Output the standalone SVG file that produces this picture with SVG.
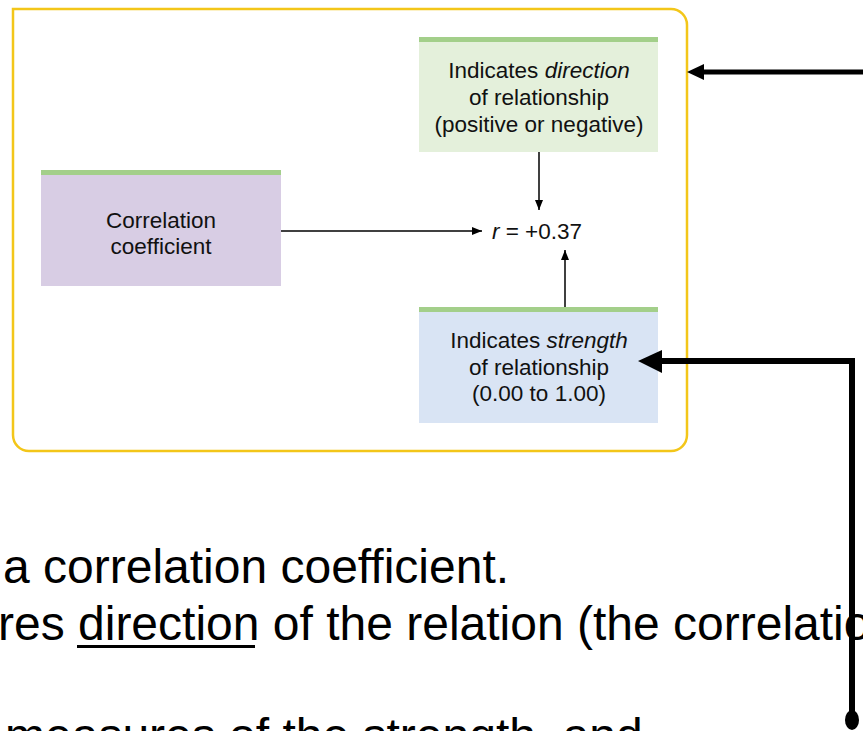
<svg xmlns="http://www.w3.org/2000/svg" width="863" height="731" viewBox="0 0 863 731">
<style>
.box{font-family:"Liberation Sans",Arial,sans-serif;font-size:22.5px;fill:#111;text-anchor:middle}
.body{font-family:"Liberation Sans",Arial,sans-serif;font-size:48px;fill:#000}
.bar{fill:#A3CF8A}
.thin{stroke:#000;stroke-width:1.5;fill:none}
.thick{stroke:#000;stroke-width:6;fill:none}
</style>
<defs>
<marker id="ah" markerWidth="10" markerHeight="8" refX="10" refY="4" orient="auto" markerUnits="userSpaceOnUse">
<path d="M0,0 L10,4 L0,8 Z" fill="#000"/>
</marker>
</defs>
<rect width="863" height="731" fill="#fff"/>
<path id="frame" d="M13,9 H671 A16,16 0 0 1 687,25 V435 A16,16 0 0 1 671,451 H29 A16,16 0 0 1 13,435 Z" fill="none" stroke="#F3C619" stroke-width="2.5"/>

<g id="direction">
<rect x="419" y="37" width="239" height="115" fill="#E4F0DB"/>
<rect class="bar" x="419" y="37" width="239" height="5"/>
<text class="box" x="539" y="78">Indicates <tspan font-style="italic">direction</tspan></text>
<text class="box" x="539" y="105">of relationship</text>
<text class="box" x="539" y="132">(positive or negative)</text>
</g>

<g id="coefficient">
<rect x="41" y="170" width="240" height="116" fill="#D8CDE4"/>
<rect class="bar" x="41" y="170" width="240" height="5"/>
<text class="box" x="161" y="228">Correlation</text>
<text class="box" x="161" y="254">coefficient</text>
</g>

<g id="rvalue">
<text class="box" x="537" y="239"><tspan font-style="italic">r</tspan> = +0.37</text>
</g>

<g id="strength">
<rect x="419" y="307" width="239" height="116" fill="#D9E4F4"/>
<rect class="bar" x="419" y="307" width="239" height="5"/>
<text class="box" x="539" y="348">Indicates <tspan font-style="italic">strength</tspan></text>
<text class="box" x="539" y="375">of relationship</text>
<text class="box" x="539" y="401">(0.00 to 1.00)</text>
</g>

<g id="connectors">
<line class="thin" x1="539" y1="152" x2="539" y2="210" marker-end="url(#ah)"/>
<line class="thin" x1="281" y1="231" x2="482" y2="231" marker-end="url(#ah)"/>
<line class="thin" x1="565" y1="307" x2="565" y2="250" marker-end="url(#ah)"/>
<line x1="863" y1="72" x2="700" y2="72" stroke="#000" stroke-width="5"/>
<path d="M687,72 L704,64 L704,80 Z" fill="#000"/>
<polyline class="thick" points="852,716 852,361 658,361" stroke-linejoin="miter"/>
<path d="M638,361 L662,350 L662,373 Z" fill="#000"/>
<ellipse cx="852" cy="720" rx="7" ry="10" fill="#000"/>
</g>

<g id="bodytext">
<text class="body" x="3" y="583">a correlation coefficient.</text>
<text class="body" x="-2" y="640">res <tspan>direction</tspan> of the relation (the correlatio</text>
<rect x="77" y="645" width="178" height="3" fill="#000"/>
<text class="body" x="5" y="752">measures of the strength, and</text>
</g>
</svg>
